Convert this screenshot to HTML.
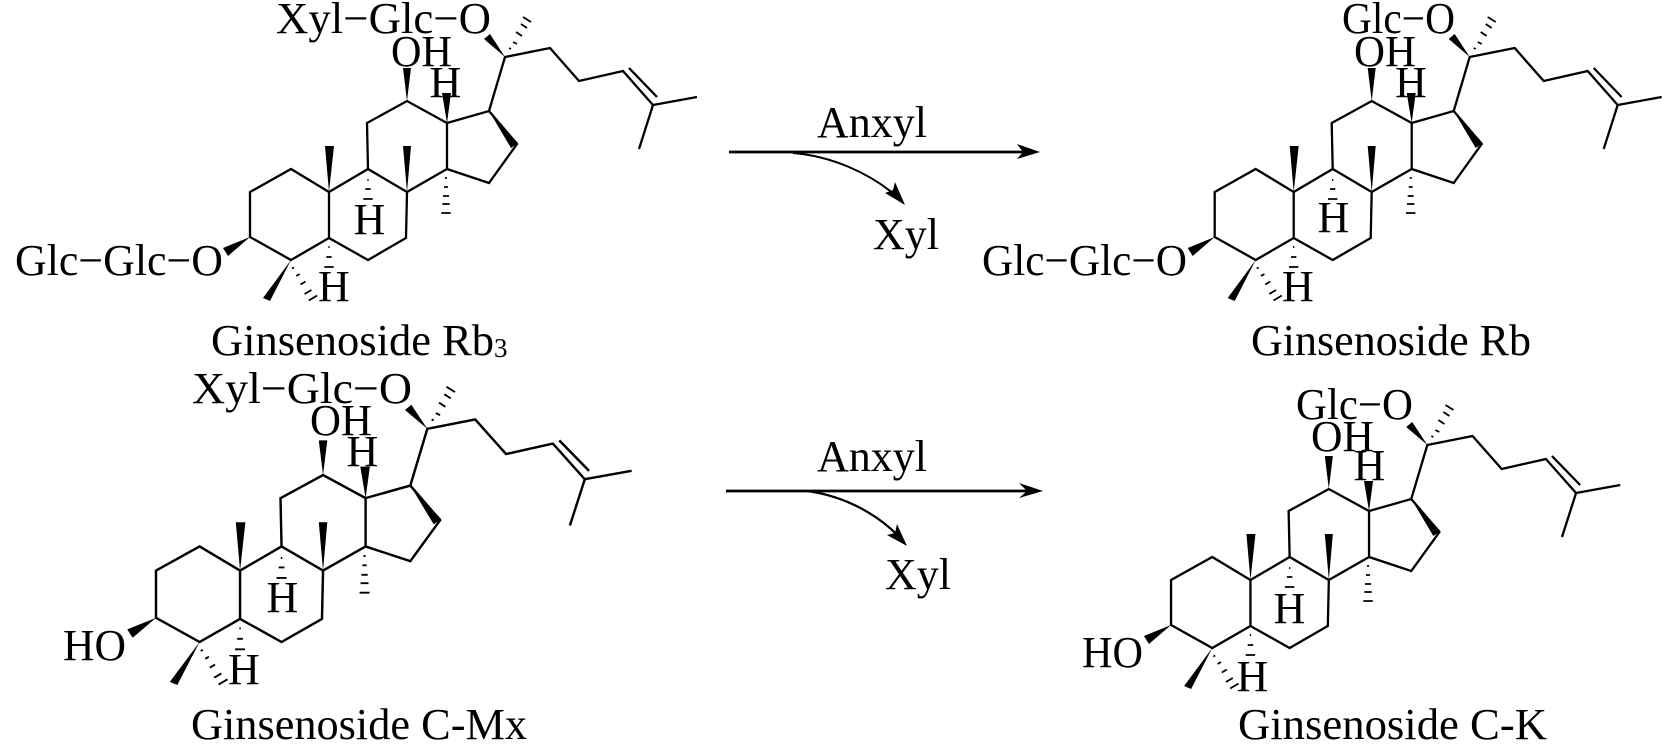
<!DOCTYPE html>
<html><head><meta charset="utf-8"><style>
html,body{margin:0;padding:0;background:#fff;width:1672px;height:748px;overflow:hidden}
svg{display:block}
text{font-family:"Liberation Serif",serif;font-size:44px;fill:#000}
.b{fill:none;stroke:#000;stroke-width:2.3;stroke-linejoin:miter}
.h{stroke:#000;stroke-width:1.8}
</style></head><body>
<svg width="1672" height="748" viewBox="0 0 1672 748" xmlns="http://www.w3.org/2000/svg">
<defs>
<g id="sk">
<path class="b" d="M250 192L291 169L329 192L329 238L291 260L250 237Z"/>
<path class="b" d="M329 192L368 169L407 192L406 238L368 260L329 238"/>
<path class="b" d="M368 169L367 123L407 101L447 123L447 169L407 192"/>
<path class="b" d="M447 123L489 111L517 144L489 183L447 169"/>
<path class="b" d="M489 111L505 57L550 48L579 81L623 71L653 105L697 97M653 105L639 149M629 68L657 97"/>
<polygon points="407,101 403,68 411,68"/>
<polygon points="447,123 442,93 451,93"/>
<polygon points="329,192 325,146 334,146"/>
<polygon points="407,192 403,146 411,146"/>
<polygon points="489,111 511,148 518,143"/>
<polygon points="250,237 223,248 228,256"/>
<polygon points="291,260 263,298 270,301"/>
<polygon points="505,57 484,39 490,34"/>
<path class="h" d="M509 48L511 49M513 42L517 44M516 32L522 36M521 24L527 28M523 17L531 22"/>
<path class="h" d="M445 178H447M444 187H448M443 196H449M442.3 204H449.7M441.3 213H450.7"/>
<path class="h" d="M367.3 180H368.7M365.3 189H370.7M363.3 199H372.7"/>
<path class="h" d="M328.3 247H329.7M326.3 257H331.7M324.3 267H333.7"/>
<path class="h" d="M292 268.5L294 267.5M296.3 276L299.7 274M300.5 284.5L305.5 281.5M304.6 294L311.4 290M308.8 300.5L317.2 295.5"/>
</g>
</defs>

<use href="#sk"/>
<use href="#sk" transform="translate(964.7 0)"/>
<use href="#sk" transform="matrix(1.064 0 0 1.05 -110 369)"/>
<use href="#sk" transform="matrix(1.005 0 0 1 919.8 388)"/>

<!-- Molecule 1 -->
<text x="276" y="33" textLength="215" lengthAdjust="spacingAndGlyphs">Xyl−Glc−O</text>
<text x="391" y="66" textLength="61" lengthAdjust="spacingAndGlyphs">OH</text>
<text x="429.5" y="97">H</text>
<text x="353.5" y="234">H</text>
<text x="318" y="301">H</text>
<text x="15" y="275" textLength="208" lengthAdjust="spacingAndGlyphs">Glc−Glc−O</text>
<text x="211" y="355" textLength="283" lengthAdjust="spacingAndGlyphs">Ginsenoside Rb</text>
<text x="494" y="357" style="font-size:27px">3</text>

<!-- Molecule 2 -->
<text x="1342" y="33" textLength="113" lengthAdjust="spacingAndGlyphs">Glc−O</text>
<text x="1354" y="66" textLength="62" lengthAdjust="spacingAndGlyphs">OH</text>
<text x="1395" y="97">H</text>
<text x="1317.5" y="232">H</text>
<text x="1282" y="301">H</text>
<text x="982" y="275" textLength="205" lengthAdjust="spacingAndGlyphs">Glc−Glc−O</text>
<text x="1251" y="355" textLength="280" lengthAdjust="spacingAndGlyphs">Ginsenoside Rb</text>

<!-- Molecule 3 -->
<text x="192" y="403" textLength="220" lengthAdjust="spacingAndGlyphs">Xyl−Glc−O</text>
<text x="310" y="435" textLength="62" lengthAdjust="spacingAndGlyphs">OH</text>
<text x="346.5" y="466">H</text>
<text x="266.5" y="612">H</text>
<text x="228" y="684">H</text>
<text x="63" y="660" textLength="63" lengthAdjust="spacingAndGlyphs">HO</text>
<text x="191" y="739" textLength="336" lengthAdjust="spacingAndGlyphs">Ginsenoside C-Mx</text>

<!-- Molecule 4 -->
<text x="1296" y="419" textLength="117" lengthAdjust="spacingAndGlyphs">Glc−O</text>
<text x="1311" y="451" textLength="63" lengthAdjust="spacingAndGlyphs">OH</text>
<text x="1353.5" y="480">H</text>
<text x="1273.5" y="623">H</text>
<text x="1236.5" y="691">H</text>
<text x="1082" y="667" textLength="61" lengthAdjust="spacingAndGlyphs">HO</text>
<text x="1238" y="739" textLength="309" lengthAdjust="spacingAndGlyphs">Ginsenoside C-K</text>

<!-- Arrows -->
<path d="M729 152H1026" fill="none" stroke="#000" stroke-width="2.7"/>
<polygon points="1040,152 1017,144 1023,152 1017,159"/>
<path d="M793 153C830 156 870 172 901 200" fill="none" stroke="#000" stroke-width="2"/>
<polygon points="905,205 885,193 893,190 895,182"/>
<text x="817" y="137">Anxyl</text>
<text x="873" y="249">Xyl</text>

<path d="M726 491H1030" fill="none" stroke="#000" stroke-width="2.7"/>
<polygon points="1043,491 1019,483 1027,491 1019,498"/>
<path d="M807 491C845 496 880 515 903 541" fill="none" stroke="#000" stroke-width="2.2"/>
<polygon points="907,546 887,535 895,533 897,524"/>
<text x="817" y="471">Anxyl</text>
<text x="885" y="589">Xyl</text>
</svg>
</body></html>
